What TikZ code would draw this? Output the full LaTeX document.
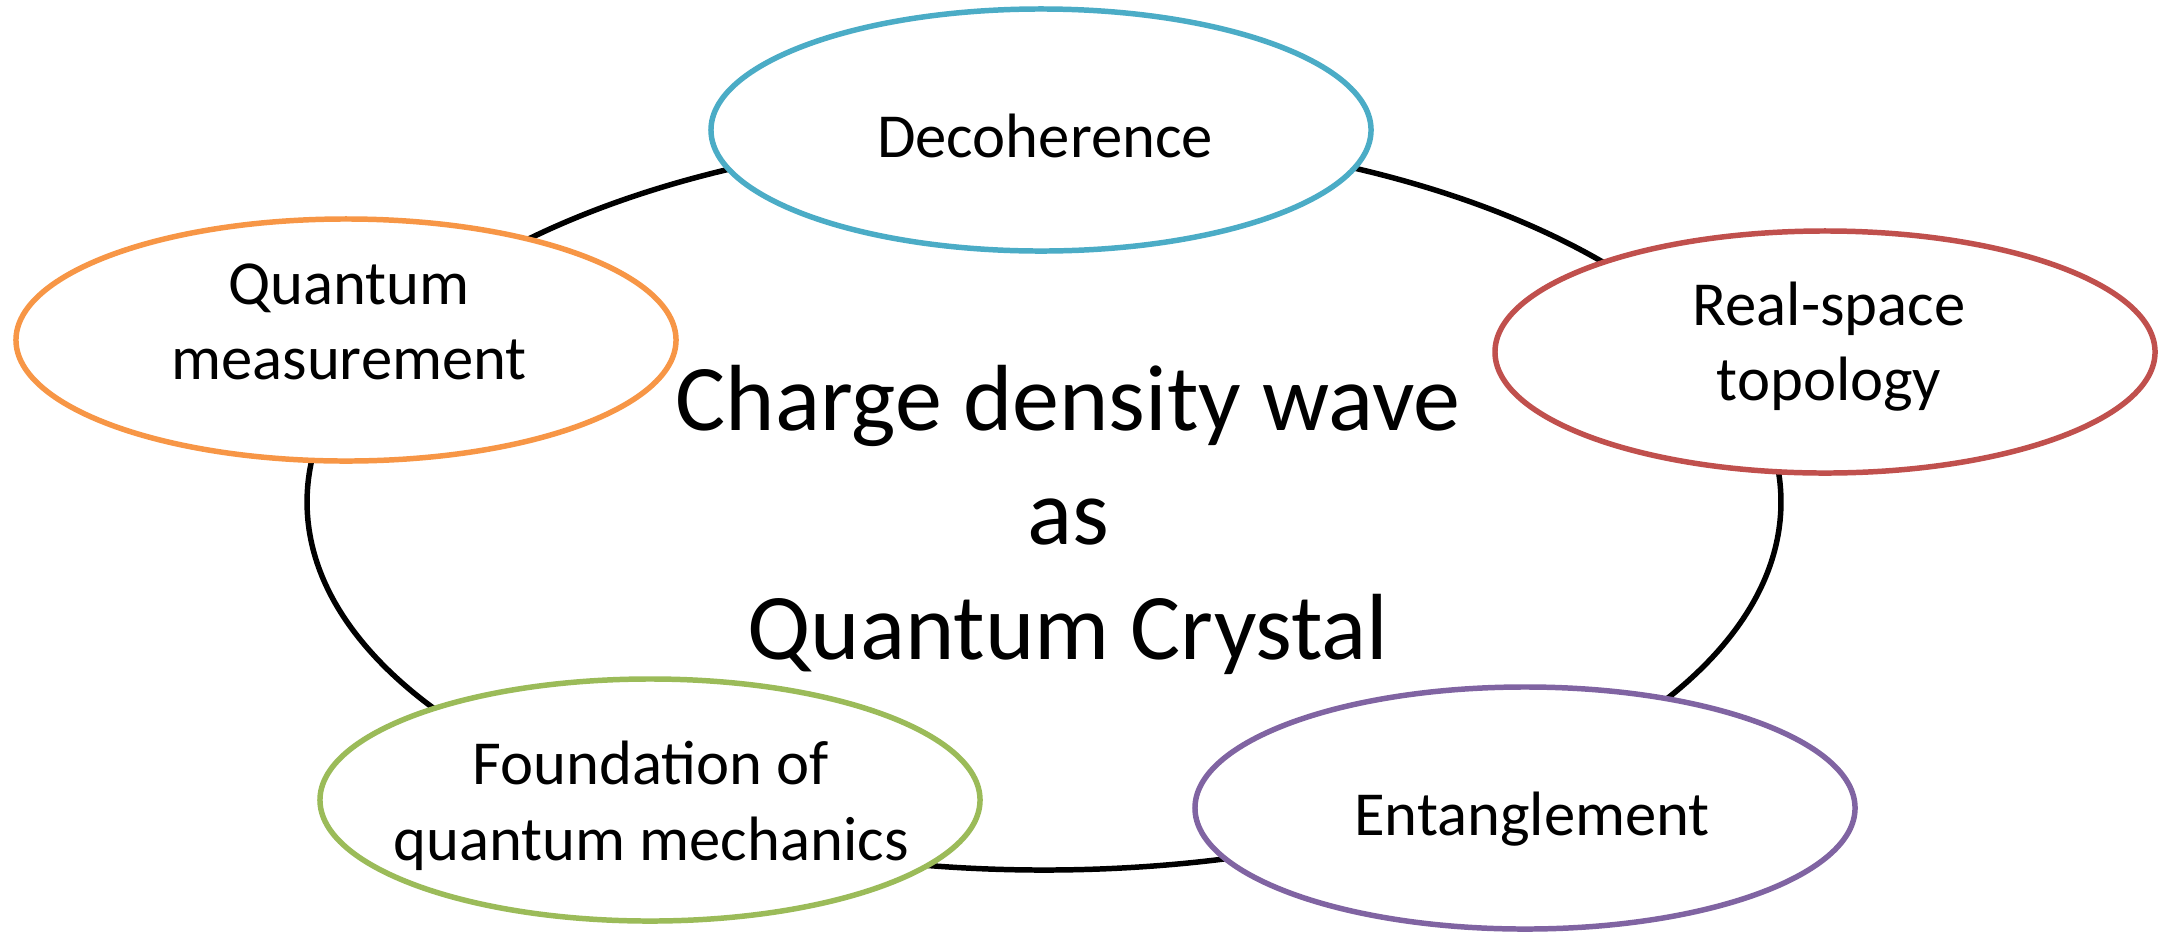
\documentclass[tikz,border=0pt]{standalone}
\usepackage{fontspec}
\setmainfont{Carlito}
\usetikzlibrary{shapes.geometric}
\definecolor{cblue}{HTML}{4BACC6}
\definecolor{corange}{HTML}{F79646}
\definecolor{cred}{HTML}{C0504D}
\definecolor{cgreen}{HTML}{9BBB59}
\definecolor{cpurple}{HTML}{8064A2}
\begin{document}
\begin{tikzpicture}[x=0.383pt, y=-0.383pt,
  bub/.style={ellipse, draw, line width=2.1pt, fill=white, minimum width=252.8pt, minimum height=92.7pt, inner sep=0pt, outer sep=0pt},
  ringstyle/.style={ellipse, draw=black, line width=2.1pt, minimum width=564.5pt, minimum height=281.9pt, inner sep=0pt, outer sep=0pt},
  lbl/.style={align=center, inner sep=0pt, font=\fontsize{24}{29.1}\selectfont},
  maintext/.style={align=center, inner sep=0pt, font=\fontsize{36}{43.85}\selectfont}]
\useasboundingbox (0,0) rectangle (2169,932);
\node[ringstyle] (ring) at (1044,502) {};
\node[bub, draw=cblue] (deco) at (1041,130) {};
\node[bub, draw=corange] (qm) at (346,340) {};
\node[bub, draw=cred] (rs) at (1825,352) {};
\node[bub, draw=cgreen] (fd) at (650,800) {};
\node[bub, draw=cpurple] (en) at (1525,808) {};
\node[lbl] (decot) at (1045,141.8) {\strut Decoherence};
\node[lbl] (qmt) at (349,326.8) {\strut Quantum\\\strut measurement};
\node[lbl] (rst) at (1829,347.8) {\strut Real-space\\\strut topology};
\node[lbl] (fdt) at (651,806.8) {\strut Foundation of\\\strut quantum mechanics};
\node[lbl] (ent) at (1532,819.8) {\strut Entanglement};
\node[maintext] (title) at (1068,521.6) {\strut Charge density wave\\\strut as\\\strut Quantum Crystal};
\end{tikzpicture}
\end{document}
